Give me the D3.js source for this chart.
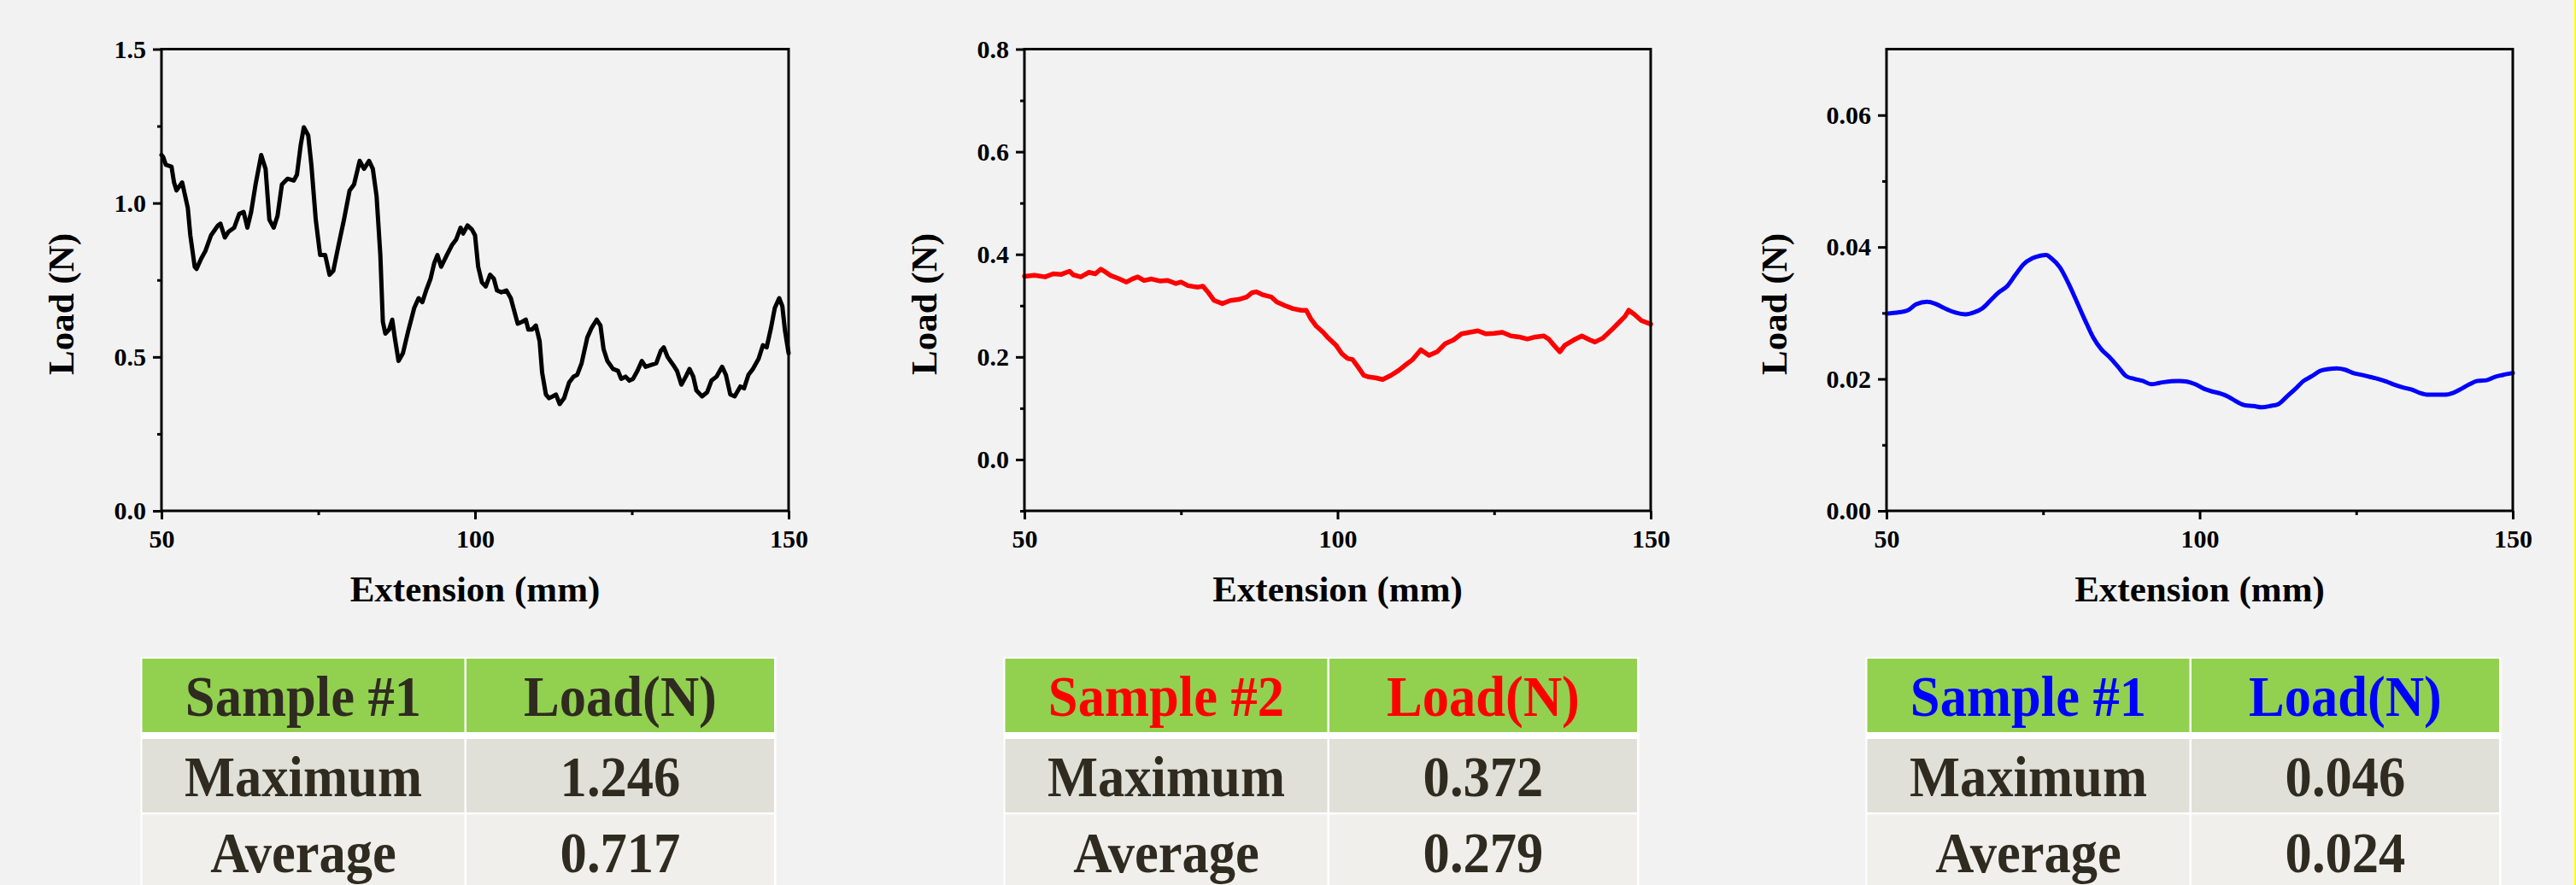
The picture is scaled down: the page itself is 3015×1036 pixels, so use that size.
<!DOCTYPE html>
<html>
<head>
<meta charset="utf-8">
<script src="https://cdn.jsdelivr.net/npm/d3@7"></script>
<style>
  body { margin: 0; background: #f2f2f2; }
  svg { display: block; }
  .tick text { font-family: "Liberation Serif", "Times New Roman", serif; font-weight: bold; font-size: 30px; fill: #000; }
  .title { font-family: "Liberation Serif", "Times New Roman", serif; font-weight: bold; font-size: 43px; fill: #000; }
  .cell { font-family: "Liberation Serif", "Times New Roman", serif; font-weight: bold; font-size: 68px; }
</style>
</head>
<body>
<div class="chart"></div>
<script>
// ---- data ----
var xTicks = [50, 100, 150]
var xMinor = [75, 125]

// sample 1 (black)
var s1X = [50, 50.26, 50.7, 51.6, 52, 52.4, 53.3, 54.2, 54.6, 55.3, 55.6, 56.3, 57, 57.9, 59, 59.4, 60.1, 60.7, 61.6, 62.4, 63.1, 63.7, 64.3, 65, 65.9, 66.6, 67.2, 67.9, 68.5, 69.2, 70.1, 71.1, 71.6, 72.2, 72.7, 73.4, 73.9, 74.6, 75.3, 76.1, 76.8, 77.4, 78.3, 79.1, 80, 80.7, 81.6, 82.3, 83.1, 83.7, 84.3, 84.9, 85.3, 85.7, 86.3, 86.8, 87.2, 87.8, 88.5, 89.4, 90.3, 91, 91.6, 92.2, 92.9, 93.5, 94, 94.6, 95.5, 96.3, 97, 97.7, 98.1, 98.8, 99.5, 100, 100.5, 101.1, 101.7, 102.4, 103, 103.5, 104.2, 105, 105.7, 106.2, 106.8, 107.5, 108.1, 108.5, 109.1, 109.7, 110.3, 110.7, 111.3, 111.8, 112.4, 112.9, 113.5, 114.2, 115, 115.7, 116.3, 117, 117.9, 118.6, 119.4, 120, 120.5, 121.1, 122, 122.8, 123.3, 124, 124.6, 125.2, 125.9, 126.6, 127.2, 128.1, 128.9, 129.6, 130.1, 130.7, 131.6, 132.2, 132.9, 133.6, 134.2, 134.8, 135.3, 136.2, 137, 137.7, 138.5, 139.4, 140, 140.7, 141.4, 142.3, 142.9, 143.6, 144.3, 145.2, 145.9, 146.5, 147.2, 147.8, 148.5, 149, 149.4, 150]
var s1Load = [1.156, 1.15, 1.124, 1.118, 1.067, 1.041, 1.067, 0.984, 0.895, 0.793, 0.786, 0.818, 0.844, 0.895, 0.927, 0.933, 0.888, 0.907, 0.92, 0.965, 0.971, 0.92, 0.971, 1.06, 1.156, 1.111, 0.946, 0.92, 0.958, 1.06, 1.079, 1.073, 1.092, 1.188, 1.246, 1.22, 1.124, 0.946, 0.831, 0.831, 0.767, 0.78, 0.869, 0.946, 1.041, 1.06, 1.137, 1.111, 1.137, 1.111, 1.022, 0.831, 0.614, 0.576, 0.589, 0.621, 0.563, 0.487, 0.512, 0.589, 0.659, 0.691, 0.678, 0.716, 0.754, 0.805, 0.831, 0.793, 0.831, 0.863, 0.882, 0.92, 0.901, 0.927, 0.914, 0.895, 0.793, 0.742, 0.729, 0.767, 0.754, 0.716, 0.71, 0.716, 0.691, 0.653, 0.608, 0.614, 0.621, 0.589, 0.589, 0.602, 0.551, 0.449, 0.378, 0.366, 0.372, 0.378, 0.347, 0.366, 0.417, 0.436, 0.442, 0.48, 0.563, 0.595, 0.621, 0.602, 0.525, 0.487, 0.461, 0.455, 0.429, 0.436, 0.423, 0.429, 0.455, 0.487, 0.468, 0.474, 0.48, 0.519, 0.531, 0.5, 0.474, 0.455, 0.41, 0.436, 0.461, 0.436, 0.391, 0.372, 0.385, 0.423, 0.436, 0.468, 0.442, 0.378, 0.372, 0.404, 0.398, 0.442, 0.461, 0.493, 0.538, 0.531, 0.595, 0.659, 0.691, 0.665, 0.589, 0.512]
var s1YTicks = [0, 0.5, 1.0, 1.5]
var s1YMinor = [0.25, 0.75, 1.25]

// sample 2 (red)
var s2X = [50, 51.6, 53.3, 54.6, 55.9, 57.2, 57.8, 59, 60.3, 61.3, 62.2, 62.9, 63.7, 65, 66.3, 67.2, 68.1, 69.1, 70.3, 71.6, 72.9, 74.2, 75, 76.1, 77.7, 78.5, 79.4, 80.3, 81.6, 82.9, 84.2, 85.5, 86.3, 87, 88.1, 89.4, 90.3, 91.6, 92.9, 94.2, 95, 95.7, 96.6, 97.7, 98.5, 99.8, 100.7, 101.6, 102.4, 103.3, 104.2, 105, 106.2, 107.2, 108.5, 109.8, 110.7, 112, 113.3, 114.6, 115.9, 117.2, 118.5, 119.8, 121.1, 122.4, 123.7, 125, 126.3, 127.7, 129, 130.3, 131.6, 132.9, 133.7, 134.6, 135.5, 136.3, 137.7, 139, 140.3, 141.1, 142.4, 143.7, 145, 145.9, 146.5, 147.4, 148.5, 150]
var s2Load = [0.357, 0.359, 0.356, 0.362, 0.361, 0.367, 0.36, 0.356, 0.365, 0.362, 0.371, 0.366, 0.359, 0.353, 0.346, 0.352, 0.356, 0.349, 0.352, 0.348, 0.349, 0.343, 0.346, 0.339, 0.336, 0.338, 0.325, 0.31, 0.304, 0.31, 0.312, 0.317, 0.325, 0.327, 0.321, 0.317, 0.307, 0.3, 0.294, 0.291, 0.291, 0.275, 0.26, 0.248, 0.237, 0.222, 0.206, 0.197, 0.195, 0.18, 0.164, 0.161, 0.159, 0.156, 0.164, 0.174, 0.183, 0.195, 0.214, 0.203, 0.21, 0.226, 0.233, 0.245, 0.248, 0.251, 0.245, 0.246, 0.248, 0.241, 0.239, 0.235, 0.239, 0.241, 0.235, 0.222, 0.21, 0.223, 0.233, 0.241, 0.233, 0.229, 0.237, 0.252, 0.268, 0.279, 0.291, 0.283, 0.271, 0.264]
var s2YTicks = [0, 0.2, 0.4, 0.6, 0.8]
var s2YMinor = [-0.1, 0.1, 0.3, 0.5, 0.7]

// sample 3 (blue)
var s3X = [50, 52, 53.4, 54.7, 56.5, 57.8, 59.1, 60.9, 62.6, 64, 65.3, 66.6, 67.9, 69.3, 70.6, 71.9, 73.3, 74.6, 75.5, 76.3, 77.7, 79, 80.3, 81.7, 83, 84.3, 85.6, 87, 88.3, 89.6, 90.9, 92.3, 93.6, 94.9, 96.7, 98, 99.3, 100.7, 102, 103.3, 104.6, 106, 107.3, 108.6, 109.9, 111.3, 112.6, 113.9, 115.3, 116.6, 117.9, 119.2, 120.6, 121.9, 123.2, 124.5, 125.9, 127.2, 128.5, 129.8, 131.2, 132.5, 133.8, 135.1, 136.5, 137.8, 139.1, 140.5, 141.8, 143.1, 144.4, 145.8, 147.1, 148.4, 150]
var s3Load = [0.0299, 0.0301, 0.0304, 0.0313, 0.0317, 0.0314, 0.0308, 0.0301, 0.0298, 0.0301, 0.0307, 0.0319, 0.0331, 0.0341, 0.0358, 0.0374, 0.0383, 0.0387, 0.0388, 0.0383, 0.0369, 0.0346, 0.0319, 0.0289, 0.0263, 0.0245, 0.0233, 0.0218, 0.0204, 0.02, 0.0197, 0.0192, 0.0194, 0.0196, 0.0197, 0.0196, 0.0192, 0.0185, 0.0181, 0.0178, 0.0173, 0.0165, 0.016, 0.0159, 0.0157, 0.0159, 0.0162, 0.0173, 0.0185, 0.0197, 0.0204, 0.0212, 0.0215, 0.0216, 0.0214, 0.0209, 0.0206, 0.0203, 0.02, 0.0196, 0.0191, 0.0187, 0.0184, 0.0179, 0.0176, 0.0176, 0.0176, 0.0179, 0.0185, 0.0192, 0.0197, 0.0198, 0.0203, 0.0206, 0.0209]
var s3YTicks = [0, 0.02, 0.04, 0.06]
var s3YMinor = [0.01, 0.03, 0.05]

// tables
var rowNames = ['Maximum', 'Average']
var t1Head = ['Sample #1', 'Load(N)']
var t1Values = ['1.246', '0.717']
var t2Head = ['Sample #2', 'Load(N)']
var t2Values = ['0.372', '0.279']
var t3Head = ['Sample #1', 'Load(N)']
var t3Values = ['0.046', '0.024']

// ---- layout ----
var W = 3015, H = 1036
var pTop = 57.5, pBottom = 598
var ink = '#2f2b20'

var panels = [
  {left: 189, right: 923, xs: s1X, ys: s1Load, yDomain: [0, 1.5], yTicks: s1YTicks, yMinor: s1YMinor, fmt: '.1f',
   color: '#000000', width: 5, curve: d3.curveLinear, labelOff: 103, head: t1Head, vals: t1Values, headColor: ink},
  {left: 1199, right: 1932, xs: s2X, ys: s2Load, yDomain: [-0.1, 0.8], yTicks: s2YTicks, yMinor: s2YMinor, fmt: '.1f',
   color: '#ff0000', width: 5.5, curve: d3.curveLinear, labelOff: 103, head: t2Head, vals: t2Values, headColor: '#ff0000'},
  {left: 2208, right: 2941, xs: s3X, ys: s3Load, yDomain: [0, 0.07], yTicks: s3YTicks, yMinor: s3YMinor, fmt: '.2f',
   color: '#0000ff', width: 5, curve: d3.curveMonotoneX, labelOff: 117, head: t3Head, vals: t3Values, headColor: '#0000ff'}
]

var svg = d3.select('.chart').append('svg')
    .attr('width', W)
    .attr('height', H)
    .attr('viewBox', [0, 0, W, H])

svg.append('rect')
    .attr('width', W).attr('height', H)
    .attr('fill', '#f2f2f2')

panels.forEach(function(p) {
    var x = d3.scaleLinear().domain([50, 150]).range([p.left, p.right])
    var y = d3.scaleLinear().domain(p.yDomain).range([pBottom, pTop])

    var g = svg.append('g')

    // minor ticks (no labels)
    g.append('g')
        .attr('transform', 'translate(' + p.left + ',0)')
        .call(d3.axisLeft(y).tickValues(p.yMinor).tickSize(5).tickSizeOuter(0).tickFormat(''))
        .call(a => a.select('.domain').remove())
        .call(a => a.selectAll('line').attr('stroke-width', 3))
    g.append('g')
        .attr('transform', 'translate(0,' + pBottom + ')')
        .call(d3.axisBottom(x).tickValues(xMinor).tickSize(5).tickSizeOuter(0).tickFormat(''))
        .call(a => a.select('.domain').remove())
        .call(a => a.selectAll('line').attr('stroke-width', 3))

    // major ticks
    g.append('g')
        .attr('transform', 'translate(' + p.left + ',0)')
        .call(d3.axisLeft(y).tickValues(p.yTicks).tickSize(10).tickSizeOuter(0).tickPadding(8).tickFormat(d3.format(p.fmt)))
        .call(a => a.select('.domain').remove())
        .call(a => a.selectAll('line').attr('stroke-width', 3))
        .call(a => a.attr('font-family', null).attr('font-size', null))
    g.append('g')
        .attr('transform', 'translate(0,' + pBottom + ')')
        .call(d3.axisBottom(x).tickValues(xTicks).tickSize(10).tickSizeOuter(0).tickPadding(12))
        .call(a => a.select('.domain').remove())
        .call(a => a.selectAll('line').attr('stroke-width', 3))
        .call(a => a.attr('font-family', null).attr('font-size', null))

    // data line
    var line = d3.line()
        .x((d, i) => x(p.xs[i]))
        .y(d => y(d))
        .curve(p.curve)

    g.append('path')
        .datum(p.ys)
        .attr('d', line)
        .attr('fill', 'none')
        .attr('stroke', p.color)
        .attr('stroke-width', p.width)
        .attr('stroke-linejoin', 'round')
        .attr('stroke-linecap', 'round')

    // frame
    g.append('rect')
        .attr('x', p.left).attr('y', pTop)
        .attr('width', p.right - p.left).attr('height', pBottom - pTop)
        .attr('fill', 'none')
        .attr('stroke', '#000')
        .attr('stroke-width', 3)

    // axis titles
    g.append('text')
        .attr('class', 'title')
        .attr('x', (p.left + p.right) / 2)
        .attr('y', 704)
        .attr('text-anchor', 'middle')
        .text('Extension (mm)')

    g.append('text')
        .attr('class', 'title')
        .attr('transform', 'translate(' + (p.left - p.labelOff) + ',356) rotate(-90)')
        .attr('text-anchor', 'middle')
        .text('Load (N)')

    // table under the chart
    var tl = p.left - 24.5
    var t = svg.append('g')
    t.append('rect')
        .attr('x', tl).attr('y', 769)
        .attr('width', 744).attr('height', H - 769)
        .attr('fill', '#ffffff')

    var cols = [{x: tl + 2, w: 377}, {x: tl + 381.5, w: 360}]
    var rows = [
      {y: 771, h: 86, fill: '#92d050', texts: p.head, color: p.headColor},
      {y: 865, h: 86, fill: '#e0e0d8', texts: [rowNames[0], p.vals[0]], color: ink},
      {y: 953.5, h: 86, fill: '#f0efeb', texts: [rowNames[1], p.vals[1]], color: ink}
    ]
    rows.forEach(function(r) {
        cols.forEach(function(c, ci) {
            t.append('rect')
                .attr('x', c.x).attr('y', r.y)
                .attr('width', c.w).attr('height', r.h)
                .attr('fill', r.fill)
            t.append('text')
                .attr('class', 'cell')
                .attr('transform', 'translate(' + (c.x + c.w / 2) + ',' + (r.y + 67) + ') scale(0.92,1)')
                .attr('text-anchor', 'middle')
                .attr('fill', r.color)
                .text(r.texts[ci])
        })
    })
})

// thin yellow edge at the right border
svg.append('rect')
    .attr('x', W - 2).attr('y', 0)
    .attr('width', 2).attr('height', H)
    .attr('fill', '#ffff00')
</script>
</body>
</html>
